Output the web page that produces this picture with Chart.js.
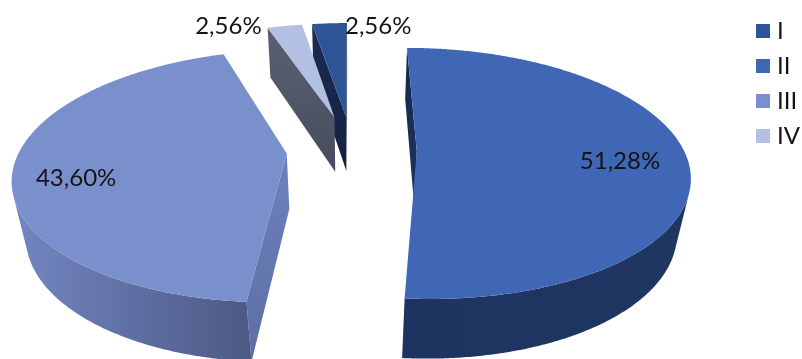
<!DOCTYPE html>
<html><head><meta charset="utf-8">
<script src="https://cdn.jsdelivr.net/npm/chart.js@4.4.1/dist/chart.umd.min.js"></script>
<style>html,body{margin:0;padding:0;background:#fff}#c{display:block}</style>
</head><body>
<canvas id="c" width="802" height="359"></canvas>
<script>
// ---- data ----
const categories = ['I', 'II', 'III', 'IV'];
const values = [2.56, 51.28, 43.60, 2.56];
const valueLabels = values.map(v => v.toFixed(2).replace('.', ',') + '%');

// ---- style ----
const topColors  = ['#2F5597', '#3F67B5', '#7A90CC', '#B4C0E2'];
const wallColors = [['#1A2B52', '#1A2B52'], ['#1D3360', '#1F3663'], ['#7286C1', '#4C5985'], ['#4C5264', '#4C5264']];
const faceColors = [['#1B2C55', '#13203F'], ['#16264A', '#1E3462'], ['#6D81BC', '#5C6EA3'], ['#5A6173', '#464C5C']];
const explode = [0.287, 0.2425, 0.245, 0.287];
const VIEW = { X0: 352, Y0: 150, FX: 1236, FY: 978, D: 4.63, tilt: 35, H: 0.333 };
const FONT = '24px Lato, "Open Sans", sans-serif';

const TS = Math.sin(VIEW.tilt * Math.PI / 180), TC = Math.cos(VIEW.tilt * Math.PI / 180);
function proj(u, v, h) {
  const z = VIEW.D + v * TC - h * TS, up = v * TS + h * TC;
  return [VIEW.X0 + VIEW.FX * u / z, VIEW.Y0 - VIEW.FY * up / z];
}
function rim(sl, t, h) { return proj(sl.cu + Math.cos(t), sl.cv - Math.sin(t), h); }
function fillPoly(ctx, pts, style) {
  ctx.beginPath();
  ctx.moveTo(pts[0][0], pts[0][1]);
  for (let k = 1; k < pts.length; k++) ctx.lineTo(pts[k][0], pts[k][1]);
  ctx.closePath();
  ctx.fillStyle = style;
  ctx.fill();
}
function hGrad(ctx, pts, cols) {
  let mn = Infinity, mx = -Infinity;
  pts.forEach(p => { mn = Math.min(mn, p[0]); mx = Math.max(mx, p[0]); });
  if (mx - mn < 1) return cols[0];
  const g = ctx.createLinearGradient(mn, 0, mx, 0);
  g.addColorStop(0, cols[0]); g.addColorStop(1, cols[1]);
  return g;
}
function vGrad(ctx, pts, cols) {
  let mn = Infinity, mx = -Infinity;
  pts.forEach(p => { mn = Math.min(mn, p[1]); mx = Math.max(mx, p[1]); });
  if (mx - mn < 1) return cols[0];
  const g = ctx.createLinearGradient(0, mn, 0, mx);
  g.addColorStop(0, cols[0]); g.addColorStop(1, cols[1]);
  return g;
}
const CAM = [0, -VIEW.D * TC, VIEW.D * TS];

function drawSlice(ctx, sl) {
  const H = VIEW.H, i = sl.i;
  const apexT = proj(sl.cu, sl.cv, 0), apexB = proj(sl.cu, sl.cv, -H);
  const faces = [
    { t: sl.a1, n: [Math.sin(sl.a1), Math.cos(sl.a1)] },
    { t: sl.a2, n: [-Math.sin(sl.a2), -Math.cos(sl.a2)] }
  ];
  faces.forEach(f => {
    const d = f.n[0] * (CAM[0] - sl.cu) + f.n[1] * (CAM[1] - sl.cv);
    if (d > 0) {
      const pts = [apexT, rim(sl, f.t, 0), rim(sl, f.t, -H), apexB];
      fillPoly(ctx, pts, vGrad(ctx, pts, faceColors[i]));
    }
  });
  const N = Math.max(10, Math.ceil((sl.a2 - sl.a1) * 180 / Math.PI * 2));
  const ts = [];
  for (let k = 0; k <= N; k++) ts.push(sl.a1 + (sl.a2 - sl.a1) * k / N);
  const vis = ts.map(t => {
    const nu = Math.cos(t), nv = -Math.sin(t);
    return nu * (CAM[0] - sl.cu - nu) + nv * (CAM[1] - sl.cv - nv) > 0;
  });
  let k = 0;
  while (k <= N) {
    if (!vis[k]) { k++; continue; }
    let j = k;
    while (j + 1 <= N && vis[j + 1]) j++;
    if (j > k) {
      const pts = [];
      for (let q = k; q <= j; q++) pts.push(rim(sl, ts[q], 0));
      for (let q = j; q >= k; q--) pts.push(rim(sl, ts[q], -H));
      fillPoly(ctx, pts, hGrad(ctx, pts, wallColors[i]));
    }
    k = j + 1;
  }
  const top = [apexT];
  ts.forEach(t => top.push(rim(sl, t, 0)));
  fillPoly(ctx, top, topColors[i]);
}

const pie3d = {
  id: 'pie3d',
  beforeDatasetsDraw(chart) {
    const ctx = chart.ctx;
    const arcs = chart.getDatasetMeta(0).data;
    const slices = arcs.map((arc, i) => {
      const a1 = arc.startAngle, a2 = arc.endAngle, m = (a1 + a2) / 2;
      return { i, a1, a2, m, cu: explode[i] * Math.cos(m), cv: -explode[i] * Math.sin(m) };
    });
    chart.$slices = slices.slice();
    slices.sort((p, q) => q.cv - p.cv);
    ctx.save();
    slices.forEach(sl => drawSlice(ctx, sl));
    ctx.restore();
    return false;
  },
  afterDraw(chart) {
    const ctx = chart.ctx;
    const sl = chart.$slices;
    ctx.save();
    ctx.font = FONT;
    ctx.fillStyle = '#141414';
    ctx.textBaseline = 'middle';
    const inside = { 1: [0.52, 0.75], 2: [0.452, 0.774] };
    Object.keys(inside).forEach(key => {
      const s = sl[key], [fa, fr] = inside[key];
      const t = s.a1 + (s.a2 - s.a1) * fa;
      const p = proj(s.cu + fr * Math.cos(t), s.cv - fr * Math.sin(t), 0);
      ctx.textAlign = 'center';
      ctx.fillText(valueLabels[key], p[0], p[1]);
    });
    const pIV = rim(sl[3], sl[3].a1, 0);
    ctx.textAlign = 'right';
    ctx.fillText(valueLabels[3], pIV[0] - 6, pIV[1] - 2);
    const pI = rim(sl[0], sl[0].a2, 0);
    ctx.textAlign = 'left';
    ctx.fillText(valueLabels[0], pI[0] - 2, pI[1] + 3);
    categories.forEach((c, i) => {
      const y = 24 + i * 35;
      ctx.fillStyle = topColors[i];
      ctx.fillRect(756, y, 14, 14);
      ctx.fillStyle = '#141414';
      ctx.textAlign = 'left';
      ctx.fillText(c, 777, y + 7);
    });
    ctx.restore();
  }
};

new Chart(document.getElementById('c'), {
  type: 'pie',
  data: { labels: categories, datasets: [{ data: values, backgroundColor: topColors, borderWidth: 0 }] },
  options: {
    responsive: false,
    animation: false,
    events: [],
    rotation: -360 * values[0] / values.reduce((a, b) => a + b, 0),
    plugins: { legend: { display: false }, tooltip: { enabled: false } }
  },
  plugins: [pie3d]
});
</script>
</body></html>
